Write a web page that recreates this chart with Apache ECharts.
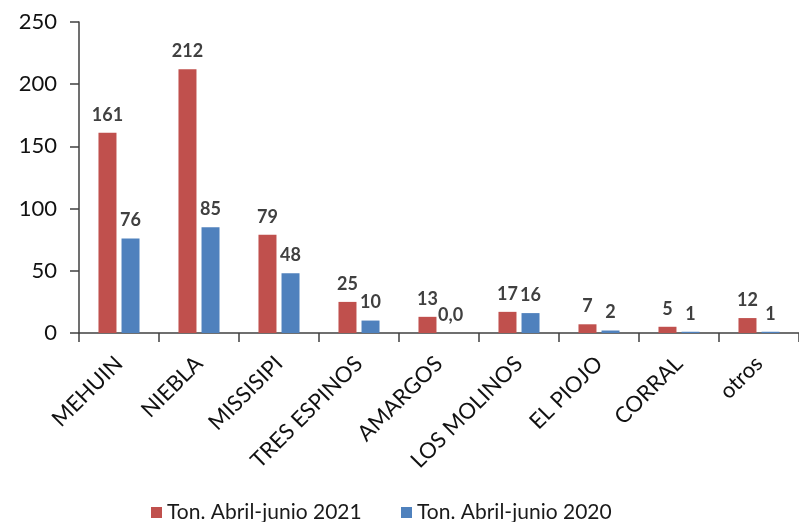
<!DOCTYPE html>
<html>
<head>
<meta charset="utf-8">
<script src="https://cdn.jsdelivr.net/npm/echarts@6/dist/echarts.min.js"></script>
<style>html,body{margin:0;padding:0;background:#fff}#c{width:799px;height:522px}</style>
</head>
<body>
<div id="c"></div>
<script>
const categories = ['MEHUIN', 'NIEBLA', 'MISSISIPI', 'TRES ESPINOS', 'AMARGOS', 'LOS MOLINOS', 'EL PIOJO', 'CORRAL', 'otros'];
const seriesNames = ['Ton. Abril-junio 2021', 'Ton. Abril-junio 2020'];
const values2021 = [161, 212, 79, 25, 13, 17, 7, 5, 12];
const values2020 = [76, 85, 48, 10, 0, 16, 2, 1, 1];
const labels2021 = ['161', '212', '79', '25', '13', '17', '7', '5', '12'];
const labels2020 = ['76', '85', '48', '10', '0,0', '16', '2', '1', '1'];
const yTicks = [0, 50, 100, 150, 200, 250];

const FONT = 'Lato';
const chart = echarts.init(document.getElementById('c'), null, {renderer: 'canvas'});
const labelStyle = (arr) => ({
  show: true, position: 'top', distance: 9,
  fontFamily: FONT, fontSize: 18, fontWeight: 'bold', color: '#404040',
  formatter: p => arr[p.dataIndex]
});
chart.setOption({
  animation: false,
  textStyle: {fontFamily: FONT},
  grid: {left: 79, right: 0, top: 22, bottom: 189, containLabel: false},
  legend: [
    {data: [seriesNames[0]], left: 146, top: 497, itemWidth: 11, itemHeight: 11, itemGap: 0,
     icon: 'rect', textStyle: {fontFamily: FONT, fontSize: 21, color: '#1a1a1a'}},
    {data: [seriesNames[1]], left: 396, top: 497, itemWidth: 11, itemHeight: 11, itemGap: 0,
     icon: 'rect', textStyle: {fontFamily: FONT, fontSize: 21, color: '#1a1a1a'}}
  ],
  xAxis: {
    type: 'category', data: categories,
    axisLine: {lineStyle: {color: '#404040', width: 1.5}},
    axisTick: {show: true, length: 9, lineStyle: {color: '#404040', width: 1.5}},
    axisLabel: {rotate: 45, margin: 27, fontFamily: FONT, fontSize: 22, color: '#111', interval: 0}
  },
  yAxis: {
    type: 'value', min: yTicks[0], max: yTicks[yTicks.length - 1], interval: 50,
    axisLine: {show: true, lineStyle: {color: '#404040', width: 1.5}},
    axisTick: {show: true, length: 9, lineStyle: {color: '#404040', width: 1.5}},
    splitLine: {show: false},
    axisLabel: {margin: 22, fontFamily: FONT, fontSize: 22, color: '#111'}
  },
  series: [
    {name: seriesNames[0], type: 'bar', data: values2021, barWidth: 18, barGap: '28%',
     itemStyle: {color: '#C0504D'}, label: labelStyle(labels2021)},
    {name: seriesNames[1], type: 'bar', data: values2020, barWidth: 18, barGap: '28%',
     itemStyle: {color: '#4F81BD'}, label: labelStyle(labels2020)}
  ]
});
</script>
</body>
</html>
